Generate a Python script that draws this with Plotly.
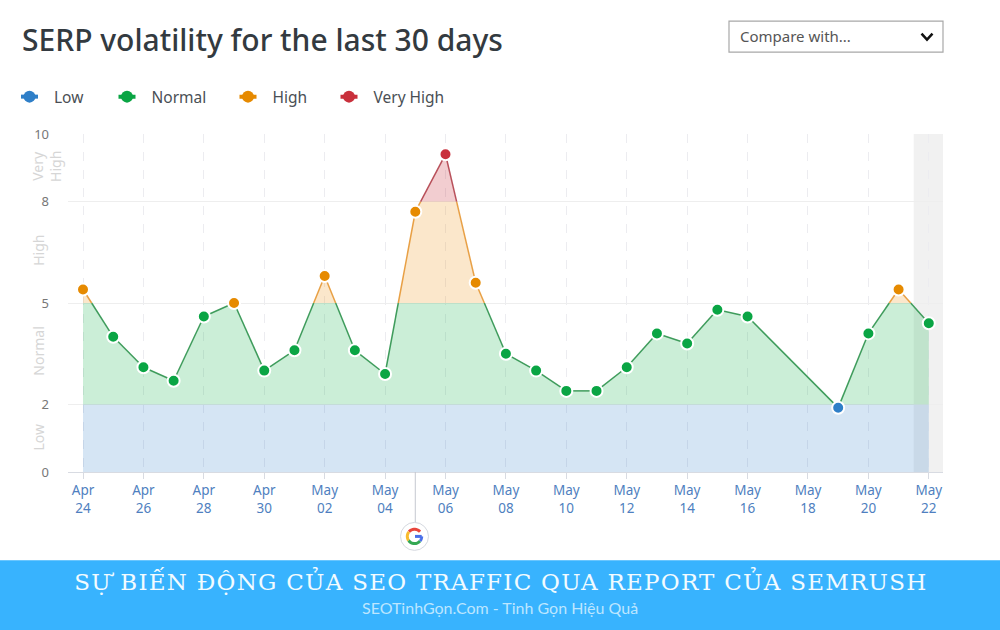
import numpy as np
import pandas as pd
import plotly.graph_objects as go

W, H = 1000, 630
PL, PR, PT, PB = 68, 943, 134, 472.5

dates = ["2020-04-24","2020-04-25","2020-04-26","2020-04-27","2020-04-28","2020-04-29","2020-04-30",
         "2020-05-01","2020-05-02","2020-05-03","2020-05-04","2020-05-05","2020-05-06","2020-05-07",
         "2020-05-08","2020-05-09","2020-05-10","2020-05-11","2020-05-12","2020-05-13","2020-05-14",
         "2020-05-15","2020-05-16","2020-05-19","2020-05-20","2020-05-21","2020-05-22"]
volatility = [5.4,4.0,3.1,2.7,4.6,5.0,3.0,3.6,5.8,3.6,2.9,7.7,9.4,5.6,3.5,3.0,2.4,2.4,3.1,4.1,3.8,4.8,4.6,1.9,4.1,5.4,4.4]
band_names = ["Low","Normal","High","Very High"]
band_edges = [0,2,5,8,10]
band_markers = ["#2f7fc8","#0aa544","#e68a00","#c9303c"]
band_lines = ["#3f86c8","#3f9c5c","#e8a045","#b8505a"]
band_fills = ["rgba(47,127,200,0.2)","rgba(10,175,68,0.21)","rgba(235,145,20,0.22)","rgba(201,48,60,0.24)"]
legend_left_px = [14,111.5,232.5,333.5]
tick_dates = ["2020-04-24","2020-04-26","2020-04-28","2020-04-30","2020-05-02","2020-05-04","2020-05-06","2020-05-08",
              "2020-05-10","2020-05-12","2020-05-14","2020-05-16","2020-05-18","2020-05-20","2020-05-22"]
tick_labels = ["Apr<br>24","Apr<br>26","Apr<br>28","Apr<br>30","May<br>02","May<br>04","May<br>06","May<br>08",
               "May<br>10","May<br>12","May<br>14","May<br>16","May<br>18","May<br>20","May<br>22"]
y_ticks = [0,2,5,8,10]
update_date = "2020-05-05"

px = lambda v: (v-PL)/(PR-PL)
py = lambda v: (PB-v)/(PB-PT)

t = pd.to_datetime(dates)
t0 = t[0]
d = np.array((t-t0)/pd.Timedelta(days=1), dtype=float)
v = np.array(volatility, dtype=float)

# add the points where the line crosses a band edge
xs, ys = [d[0]], [v[0]]
for i in range(len(d)-1):
    cross = []
    for e in band_edges[1:-1]:
        if (v[i]-e)*(v[i+1]-e) < 0:
            cross.append((d[i]+(e-v[i])/(v[i+1]-v[i])*(d[i+1]-d[i]), e))
    for c in sorted(cross):
        xs.append(c[0]); ys.append(c[1])
    xs.append(d[i+1]); ys.append(v[i+1])
xs, ys = np.array(xs), np.array(ys, dtype=float)
to_dt = lambda a: [(t0+pd.to_timedelta(float(q), unit="D")).isoformat() for q in a]
xd = to_dt(xs)

fig = go.Figure()
for k, name in enumerate(band_names):
    lo, hi = band_edges[k], band_edges[k+1]
    top = np.clip(ys, lo, hi)
    fig.add_trace(go.Scatter(x=xd+xd[::-1], y=list(top)+[lo]*len(xd), mode="lines", fill="toself",
                             fillcolor=band_fills[k], line=dict(width=0), showlegend=False, hoverinfo="skip"))
for k, name in enumerate(band_names):
    lo, hi = band_edges[k], band_edges[k+1]
    lx, ly = [], []
    for i in range(len(xs)-1):
        if lo <= ys[i] <= hi and lo <= ys[i+1] <= hi:
            lx += [xd[i], xd[i+1], None]
            ly += [ys[i], ys[i+1], None]
    fig.add_trace(go.Scatter(x=lx, y=ly, mode="lines", line=dict(color=band_lines[k], width=1.5),
                             showlegend=False, hoverinfo="skip"))
for k, name in enumerate(band_names):
    lo, hi = band_edges[k], band_edges[k+1]
    mx, my = [], []
    for i in range(len(v)):
        if lo <= v[i] < hi:
            mx += [t[i].isoformat(), None]
            my += [v[i], None]
    fig.add_trace(go.Scatter(x=mx, y=my, mode="lines+markers", name=name, connectgaps=False,
                             legend="legend" if k == 0 else f"legend{k+1}",
                             line=dict(color=band_markers[k], width=4),
                             marker=dict(color=band_markers[k], size=12, line=dict(color="white", width=2))))

shapes = [
    dict(type="rect", xref="x", yref="paper", layer="below",
         x0=(t0+pd.to_timedelta(27.5, unit="D")).isoformat(), x1=(t0+pd.to_timedelta(28.47, unit="D")).isoformat(),
         y0=0, y1=1, fillcolor="#f1f1f1", line_width=0),
    dict(type="line", xref="x", yref="paper", x0=update_date, x1=update_date, y0=0, y1=py(523),
         line=dict(color="#c5c9d0", width=1)),
    dict(type="circle", xref="paper", yref="paper", x0=px(400.5), x1=px(428.5), y0=py(551), y1=py(523),
         fillcolor="white", line=dict(color="#d5d9e0", width=1)),
    dict(type="rect", xref="paper", yref="paper", x0=px(729), x1=px(943), y0=py(52), y1=py(21),
         fillcolor="white", line=dict(color="#a8a8a8", width=1.2)),
    dict(type="path", xref="paper", yref="paper",
         path=f"M {px(921.5)} {py(33.5)} L {px(927)} {py(39.5)} L {px(932.5)} {py(33.5)}",
         line=dict(color="#111111", width=2.5)),
    dict(type="rect", xref="paper", yref="paper", x0=px(-2), x1=px(1002), y0=py(634), y1=py(561),
         fillcolor="#38b3fe", line_width=0),
]
# Google "G" badge
def arc(a0, a1, r=7.2, cx=414.5, cy=537):
    a = np.radians(np.linspace(a0, a1, 12))
    pts = [(px(cx+r*np.cos(q)), py(cy-r*np.sin(q))) for q in a]
    return "M "+" L ".join(f"{p[0]} {p[1]}" for p in pts)
for a0, a1, col in [(40,140,"#e8453c"),(140,215,"#f9bb2d"),(215,320,"#34a853"),(320,360,"#4a6fe8")]:
    shapes.append(dict(type="path", xref="paper", yref="paper", path=arc(a0,a1), line=dict(color=col, width=3)))
shapes.append(dict(type="line", xref="paper", yref="paper", x0=px(415), x1=px(421.7), y0=py(537), y1=py(537),
                   line=dict(color="#4a6fe8", width=3)))

ann = lambda **k: dict(xref="paper", yref="paper", showarrow=False, **k)
annotations = [
    ann(x=px(20), y=py(39), xanchor="left", yanchor="middle", text="SERP volatility for the last 30 days",
        font=dict(family="Noto Sans", size=30, weight=500, color="#333a40")),
    ann(x=px(738), y=py(35.5), xanchor="left", yanchor="middle", text="Compare with...",
        font=dict(family="Noto Sans", size=15, color="#555555")),
    ann(x=px(501), y=py(581), xanchor="center", yanchor="middle", text="SỰ BIẾN ĐỘNG CỦA SEO TRAFFIC QUA REPORT CỦA SEMRUSH",
        font=dict(family="DejaVu Serif", size=23, color="#f2fbff")),
    ann(x=px(500), y=py(608), xanchor="center", yanchor="middle", text="SEOTinhGọn.Com - Tinh Gọn Hiệu Quả",
        font=dict(family="Lato", size=16, color="#bde6ff")),
]
for label, cx, cy in [("Low",39,438),("Normal",39,352),("High",39,251),("Very<br>High",47,167)]:
    annotations.append(ann(x=px(cx), y=py(cy), xanchor="center", yanchor="middle", textangle=-90, text=label,
                           font=dict(family="Noto Sans", size=14, color="#d6d6d6")))

layout = dict(
    width=W, height=H, autosize=False, paper_bgcolor="white", plot_bgcolor="rgba(0,0,0,0)",
    margin=dict(l=PL, r=W-PR, t=PT, b=H-PB, pad=0),
    font=dict(family="Noto Sans"), shapes=shapes, annotations=annotations, hovermode="closest",
    xaxis=dict(type="date",
               range=[(t0-pd.to_timedelta(0.497, unit="D")).isoformat(), (t0+pd.to_timedelta(28.47, unit="D")).isoformat()],
               tickmode="array", tickvals=tick_dates, ticktext=tick_labels, ticks="outside", ticklen=6, tickcolor="#d8dbe2",
               tickfont=dict(family="Noto Sans", size=13.5, color="#4f7fc0"), showgrid=True, gridcolor="#ececf0", griddash="dash",
               gridwidth=1, showline=True, linecolor="#d8dbe2", linewidth=1, zeroline=False),
    yaxis=dict(range=[0,10], tickmode="array", tickvals=y_ticks, ticks="", ticklabelstandoff=18,
               tickfont=dict(family="Noto Sans", size=13, color="#777777"), showgrid=True, gridcolor="#eeeeee",
               gridwidth=1, zeroline=False, showline=False),
)
for k, lx in enumerate(legend_left_px):
    key = "legend" if k == 0 else f"legend{k+1}"
    layout[key] = dict(x=px(lx), y=py(97), xanchor="left", yanchor="middle", xref="paper", yref="paper",
                       orientation="h", bgcolor="rgba(0,0,0,0)", itemwidth=30,
                       font=dict(family="Noto Sans", size=15.5, color="#4a4f55"))
fig.update_layout(**layout)

post = """
document.body.style.margin='0';
document.querySelectorAll('.legendlines path').forEach(function(p){p.setAttribute('d','M7,0h17');});
document.querySelectorAll('.legendpoints path').forEach(function(p){
  p.setAttribute('transform','translate(15.5,0)');
  p.style.strokeWidth='0';
});
document.querySelectorAll('.annotation-text').forEach(function(t){
  if(t.textContent.indexOf('SEMRUSH')>=0){t.style.letterSpacing='1.25px';}
});
"""
fig.write_html("out.html", config=dict(displayModeBar=False), post_script=post)
